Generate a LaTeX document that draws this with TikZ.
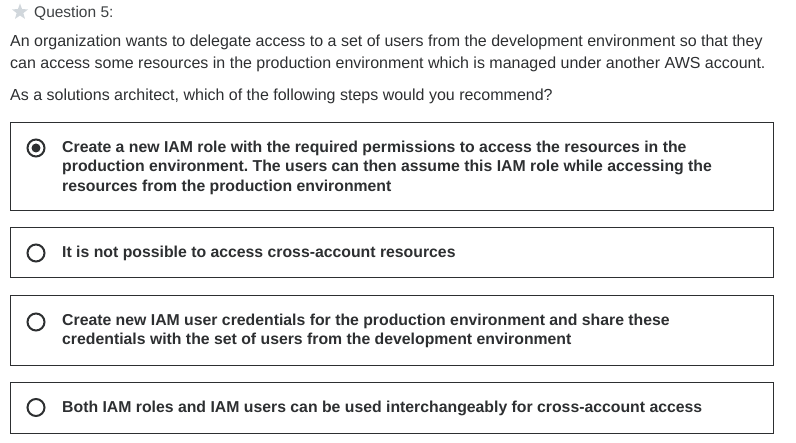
\documentclass[tikz,border=0pt]{standalone}
\usepackage{fontspec}
\setmainfont{Liberation Sans}
\usetikzlibrary{shapes.geometric}
\definecolor{ink}{HTML}{2D2F31}
\definecolor{headgray}{HTML}{3E4143}
\definecolor{stargray}{HTML}{D1D7DC}
\frenchspacing
\tikzset{
  body/.style={anchor=base west, inner sep=0pt, text=ink, font=\fontsize{16}{19}\selectfont},
  opt/.style={anchor=base west, inner sep=0pt, text=ink, font=\fontsize{15.8}{19}\selectfont\bfseries},
  optbox/.style={draw=ink, line width=1.2pt, inner sep=0pt},
  radio/.style={circle, draw=ink, line width=2pt, minimum size=17pt, inner sep=0pt},
}
\begin{document}
\begin{tikzpicture}[x=1pt,y=-1pt]
\useasboundingbox (0,0) rectangle (796,443);
% header
\node[star, star points=5, star point ratio=2.4, fill=stargray, minimum size=17pt, inner sep=0pt] (star) at (20,12) {};
\node[anchor=base west, inner sep=0pt, text=headgray, font=\fontsize{15.5}{19}\selectfont] (qhead) at (34,17.5) {Question 5:};
% question text
\node[body] (t1) at (10,47) {An organization wants to delegate access to a set of users from the development environment so that they};
\node[body] (t2) at (10,69) {can access some resources in the production environment which is managed under another AWS account.};
\node[body] (t3) at (10,100.5) {As a solutions architect, which of the following steps would you recommend?};
% option boxes
\draw[optbox] (10.5,122.5) rectangle (773.5,210.5);
\draw[optbox] (10.5,227.5) rectangle (773.5,277.5);
\draw[optbox] (10.5,295.5) rectangle (773.5,365.5);
\draw[optbox] (10.5,382.5) rectangle (773.5,433.5);
% radios
\node[radio] (r1) at (36,148) {};
\fill[ink] (r1.center) circle (4.5);
\node[radio] (r2) at (36,253) {};
\node[radio] (r3) at (36,322) {};
\node[radio] (r4) at (36,407.5) {};
% option texts
\node[opt] (o1a) at (62,153) {Create a new IAM role with the required permissions to access the resources in the};
\node[opt] (o1b) at (62,172) {production environment. The users can then assume this IAM role while accessing the};
\node[opt] (o1c) at (62,191.5) {resources from the production environment};
\node[opt] (o2) at (62,257.5) {It is not possible to access cross-account resources};
\node[opt] (o3a) at (62,326) {Create new IAM user credentials for the production environment and share these};
\node[opt] (o3b) at (62,345) {credentials with the set of users from the development environment};
\node[opt] (o4) at (62,412.5) {Both IAM roles and IAM users can be used interchangeably for cross-account access};
\end{tikzpicture}
\end{document}
